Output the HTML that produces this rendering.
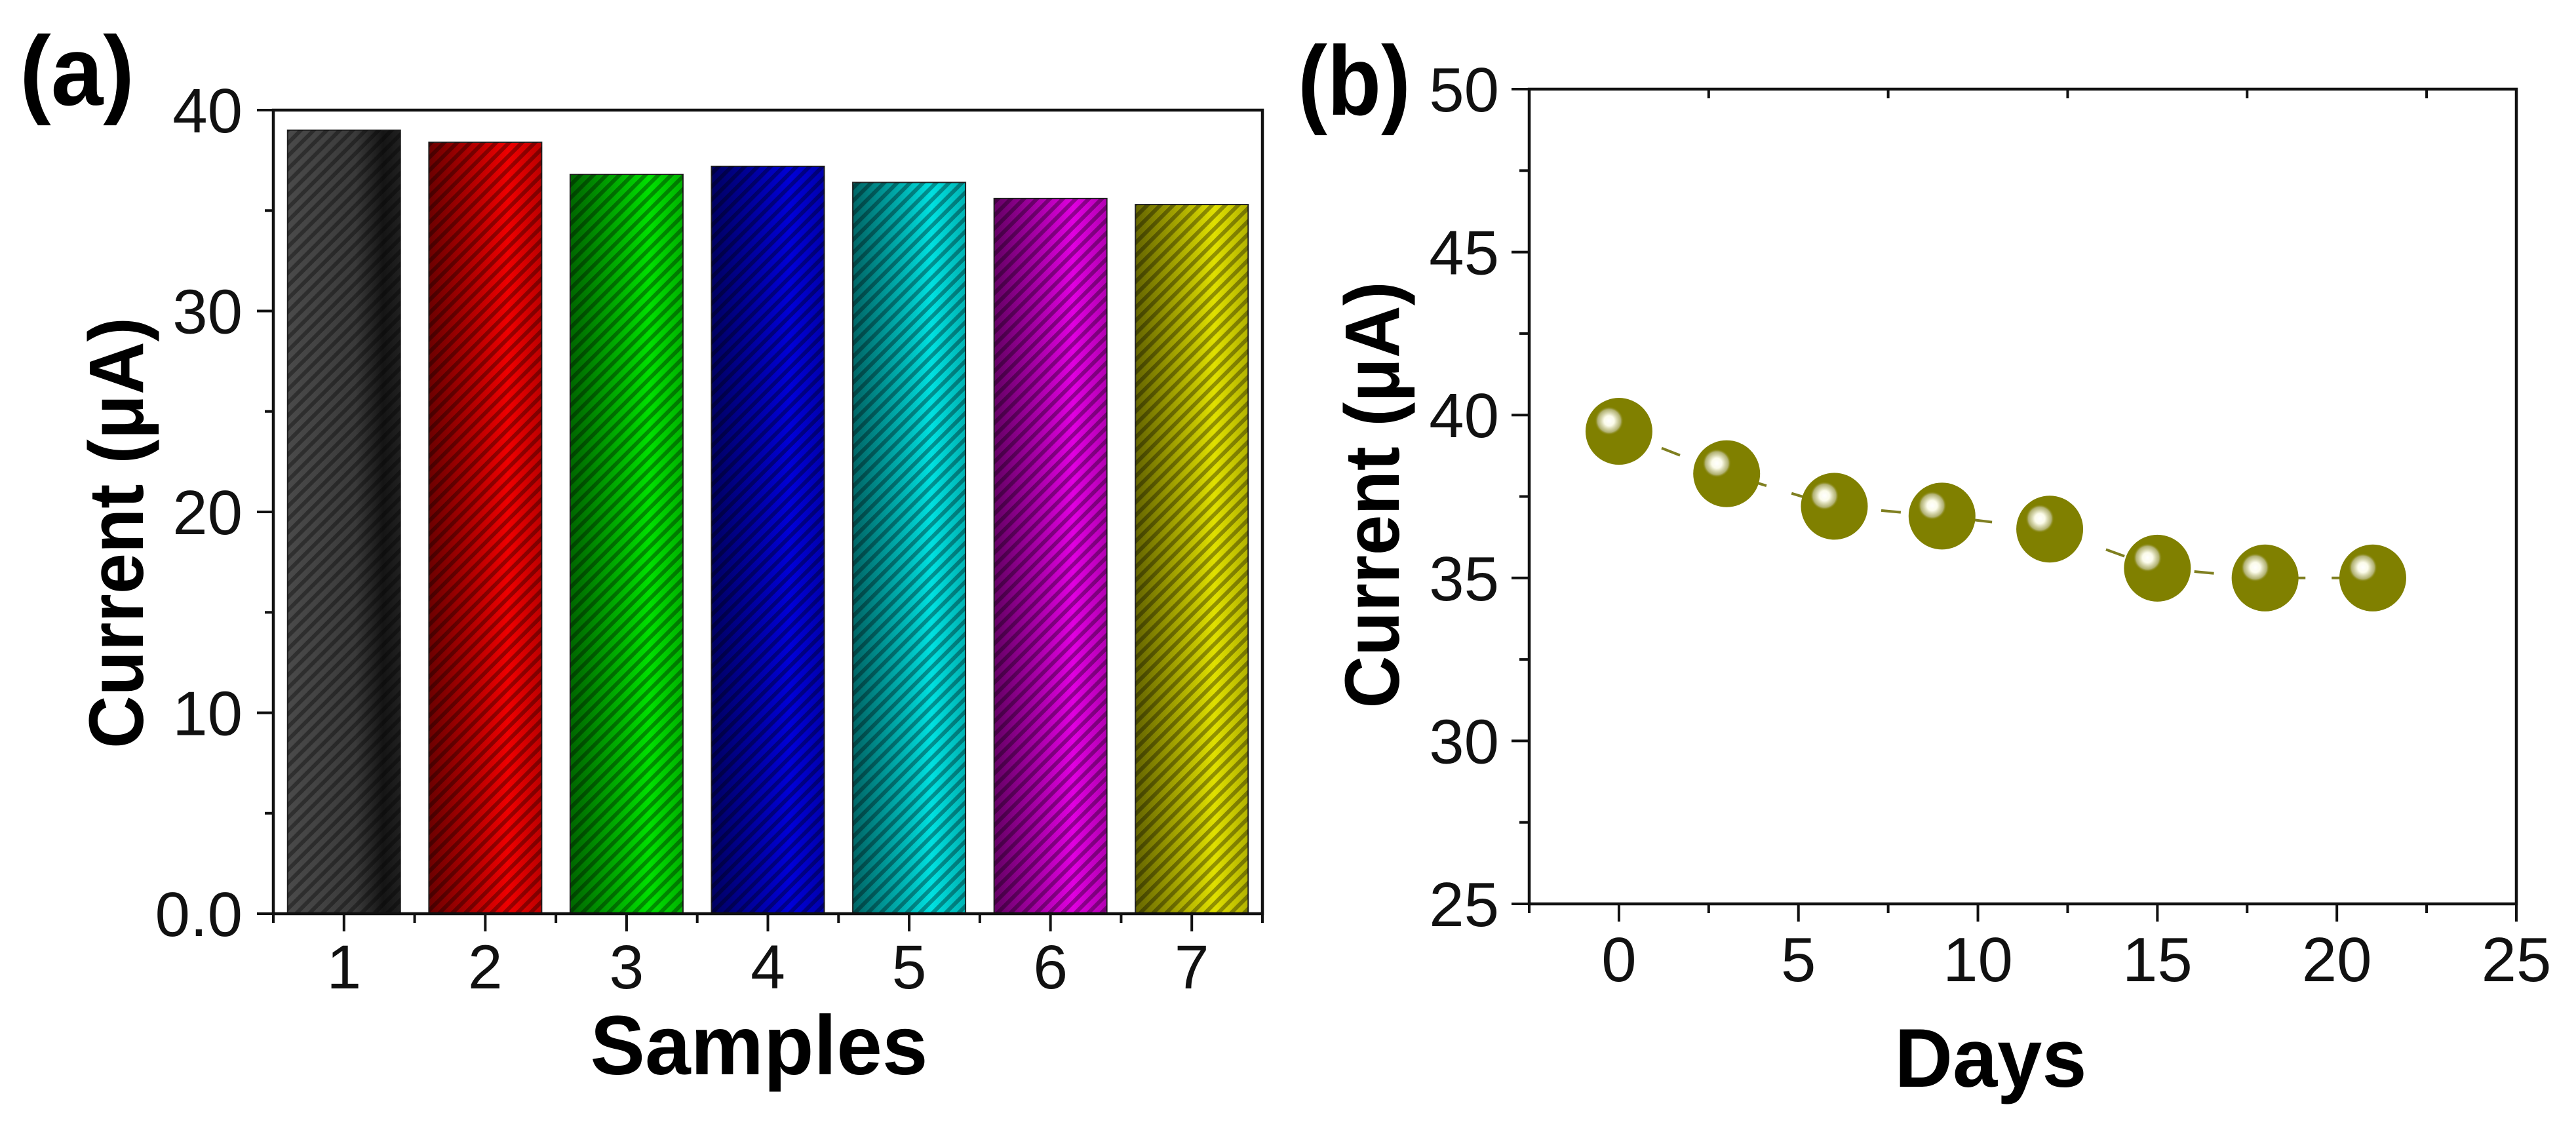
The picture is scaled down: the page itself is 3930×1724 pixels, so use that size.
<!DOCTYPE html>
<html><head><meta charset="utf-8"><style>
html,body{margin:0;padding:0;background:#fff;}
svg{display:block;font-family:"Liberation Sans",Arial,sans-serif;}
</style></head><body>
<svg id="fig" width="3930" height="1724" viewBox="0 0 3930 1724" xmlns="http://www.w3.org/2000/svg">
<defs>
<pattern id="hatch" patternUnits="userSpaceOnUse" width="14" height="14" patternTransform="rotate(45)">
<rect x="0" y="0" width="6" height="14" fill="rgba(0,0,0,0.35)"/>
</pattern>
<radialGradient id="hilite" cx="0.5" cy="0.5" r="0.5">
<stop offset="0" stop-color="#ffffff"/>
<stop offset="0.35" stop-color="#fbfbea"/>
<stop offset="0.55" stop-color="#d8d8b0"/>
<stop offset="0.8" stop-color="#b0b070"/>
<stop offset="1" stop-color="#808000" stop-opacity="0"/>
</radialGradient>
</defs>
<g id="pa"></g>
<g id="pb"></g>
</svg>
<script>
// Panel (a) data
const sampleLabels = ["1","2","3","4","5","6","7"];
const sampleCurrents = [39.0, 38.4, 36.8, 37.2, 36.4, 35.6, 35.3];
const barColors = ["#555555","#ee0000","#00e000","#0000d8","#00e0e0","#e000e0","#e0e000"];
const aYTicks = [0, 10, 20, 30, 40];
const aYTickLabels = ["0.0","10","20","30","40"];
// Panel (b) data
const days = [0, 3, 6, 9, 12, 15, 18, 21];
const dayCurrents = [39.5, 38.2, 37.2, 36.9, 36.5, 35.3, 35.0, 35.0];
const bXTicks = [0, 5, 10, 15, 20, 25];
const bYTicks = [25, 30, 35, 40, 45, 50];

const NS = "http://www.w3.org/2000/svg";
function mk(parent, tag, attrs, text){
  const e = document.createElementNS(NS, tag);
  for (const k in attrs) e.setAttribute(k, attrs[k]);
  if (text !== undefined) e.textContent = text;
  parent.appendChild(e);
  return e;
}
function shade(hex, f){
  const n = parseInt(hex.slice(1),16);
  let r=(n>>16)&255,g=(n>>8)&255,b=n&255;
  r=Math.round(r*f);g=Math.round(g*f);b=Math.round(b*f);
  return "rgb("+r+","+g+","+b+")";
}

// ---------- Panel A ----------
const pa = document.getElementById("pa");
const aL=417, aR=1926, aT=168, aB=1394;
const aYmin=0, aYmax=40;
function aY(v){ return aB - (v-aYmin)/(aYmax-aYmin)*(aB-aT); }
const aStep=(aR-aL)/sampleLabels.length;
function aX(i){ return aL + aStep*(i+0.5); }
const defs = document.querySelector("defs");
sampleLabels.forEach((lab,i)=>{
  const g = mk(defs,"linearGradient",{id:"bg"+i,x1:"0",y1:"0",x2:"1",y2:"0"});
  const c = barColors[i];
  if(i===0){
    mk(g,"stop",{offset:"0","stop-color":"#4a4a4a"});
    mk(g,"stop",{offset:"0.6","stop-color":"#3a3a3a"});
    mk(g,"stop",{offset:"0.85","stop-color":"#151515"});
    mk(g,"stop",{offset:"1","stop-color":"#202020"});
  } else {
    mk(g,"stop",{offset:"0","stop-color":shade(c,0.45)});
    mk(g,"stop",{offset:"0.7","stop-color":shade(c,1)});
    mk(g,"stop",{offset:"1","stop-color":shade(c,0.8)});
  }
  const bw = 172;
  const x = aX(i)-bw/2, y = aY(sampleCurrents[i]);
  const bar = mk(pa,"rect",{x:x,y:y,width:bw,height:aY(0)-y,fill:"url(#bg"+i+")",stroke:"#222","stroke-width":2});
  
  
  const h = mk(pa,"rect",{x:x,y:y,width:bw,height:aY(0)-y,fill:"url(#hatch)"});
  
  
  const t = mk(pa,"line",{x1:aX(i),y1:aB,x2:aX(i),y2:aB+27,stroke:"#111","stroke-width":4});
  
  
  const tl = mk(pa,"text",{x:aX(i),y:1508,"font-size":95,"text-anchor":"middle",fill:"#111"},lab);
  
  
});
for(let i=0;i<=sampleLabels.length;i++){
  const x=aL+aStep*i;
  const m = mk(pa,"line",{x1:x,y1:aB,x2:x,y2:aB+14,stroke:"#111","stroke-width":4});
  
  
}
aYTicks.forEach((v,i)=>{
  const t = mk(pa,"line",{x1:392,y1:aY(v),x2:aL,y2:aY(v),stroke:"#111","stroke-width":4});
  
  
  const tl = mk(pa,"text",{x:370,y:aY(v)+34,"font-size":96,"text-anchor":"end",fill:"#111"},aYTickLabels[i]);
  
  
  if(i<aYTicks.length-1){
    const mv=(v+aYTicks[i+1])/2;
    const m = mk(pa,"line",{x1:404,y1:aY(mv),x2:aL,y2:aY(mv),stroke:"#111","stroke-width":4});
    
    
  }
});
const fa = mk(pa,"rect",{x:aL,y:aT,width:aR-aL,height:aB-aT,fill:"none",stroke:"#111","stroke-width":4.5});


const ayt = mk(pa,"text",{x:0,y:0,"font-size":118,"font-weight":"bold","text-anchor":"middle",textLength:658,lengthAdjust:"spacingAndGlyphs",transform:"translate(218,813) rotate(-90)",fill:"#000"},"Current (μA)");


const axt = mk(pa,"text",{x:1158,y:1639,"font-size":128,"font-weight":"bold","text-anchor":"middle",textLength:515,lengthAdjust:"spacingAndGlyphs",fill:"#000"},"Samples");


const la = mk(pa,"text",{x:30,y:160,"font-size":150,"font-weight":"bold",textLength:175,lengthAdjust:"spacingAndGlyphs",fill:"#000"},"(a)");



// ---------- Panel B ----------
const pb = document.getElementById("pb");
const bL=2333, bR=3839, bT=136, bB=1379;
const bXmin=-2.5, bXmax=25, bYmin=25, bYmax=50;
function bX(v){ return bL + (v-bXmin)/(bXmax-bXmin)*(bR-bL); }
function bY(v){ return bB - (v-bYmin)/(bYmax-bYmin)*(bB-bT); }
const fb = mk(pb,"rect",{x:bL,y:bT,width:bR-bL,height:bB-bT,fill:"none",stroke:"#111","stroke-width":4.5});


bXTicks.forEach(v=>{
  const t = mk(pb,"line",{x1:bX(v),y1:bB,x2:bX(v),y2:bB+27,stroke:"#111","stroke-width":4});
  
  
  const tl = mk(pb,"text",{x:bX(v),y:1497,"font-size":96,"text-anchor":"middle",fill:"#111"},String(v));
  
  
  const mv=v-2.5;
  const m = mk(pb,"line",{x1:bX(mv),y1:bB,x2:bX(mv),y2:bB+14,stroke:"#111","stroke-width":4});
  
  
  if(v<25){
    const tm = mk(pb,"line",{x1:bX(v+2.5),y1:bT,x2:bX(v+2.5),y2:bT+14,stroke:"#111","stroke-width":4});
    
    
  }
});
bYTicks.forEach((v,i)=>{
  const t = mk(pb,"line",{x1:2306,y1:bY(v),x2:bL,y2:bY(v),stroke:"#111","stroke-width":4});
  
  
  const tl = mk(pb,"text",{x:2287,y:bY(v)+34,"font-size":96,"text-anchor":"end",fill:"#111"},String(v));
  
  
  if(i<bYTicks.length-1){
    const mv=v+2.5;
    const m = mk(pb,"line",{x1:2318,y1:bY(mv),x2:bL,y2:bY(mv),stroke:"#111","stroke-width":4});
    
    
  }
});
const pts = days.map((d,i)=>bX(d)+","+bY(dayCurrents[i])).join(" ");
const line = mk(pb,"polyline",{points:pts,fill:"none",stroke:"#7f7f20","stroke-width":4,"stroke-dasharray":"30 40"});


days.forEach((d,i)=>{
  const cx=bX(d), cy=bY(dayCurrents[i]);
  const c = mk(pb,"circle",{cx:cx,cy:cy,r:51,fill:"#808000"});
  
  
  const hl = mk(pb,"circle",{cx:cx-15,cy:cy-16,r:22,fill:"url(#hilite)"});
  
  
});
const byt = mk(pb,"text",{x:0,y:0,"font-size":118,"font-weight":"bold","text-anchor":"middle",textLength:651,lengthAdjust:"spacingAndGlyphs",transform:"translate(2134,755) rotate(-90)",fill:"#000"},"Current (μA)");


const bxt = mk(pb,"text",{x:3037,y:1658,"font-size":127,"font-weight":"bold","text-anchor":"middle",textLength:293,lengthAdjust:"spacingAndGlyphs",fill:"#000"},"Days");


const lb = mk(pb,"text",{x:1980,y:175,"font-size":150,"font-weight":"bold",textLength:172,lengthAdjust:"spacingAndGlyphs",fill:"#000"},"(b)");


</script>
</body></html>
